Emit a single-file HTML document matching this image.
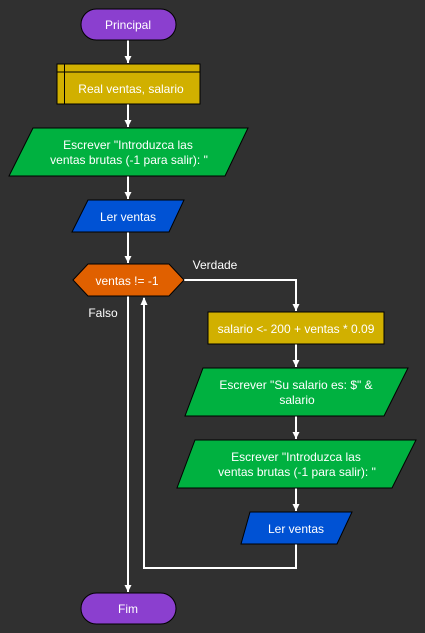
<!DOCTYPE html>
<html><head><meta charset="utf-8"><style>
html,body{margin:0;padding:0;background:#303030;}
svg{display:block;}
text{font-family:"Liberation Sans",sans-serif;font-size:12px;fill:#fff;text-anchor:middle;}
</style></head><body>
<svg width="425" height="633" viewBox="0 0 425 633" xmlns="http://www.w3.org/2000/svg">
<rect width="425" height="633" fill="#303030"/>
<defs>
<marker id="a" markerWidth="8" markerHeight="8" refX="4" refY="7" orient="auto-start-reverse" markerUnits="userSpaceOnUse">
<path d="M0.5,0 L4,7 L7.5,0 L4,2 Z" fill="#fff"/>
</marker>
</defs>
<g stroke="#fff" stroke-width="2" fill="none">
<line x1="128" y1="40" x2="128" y2="63"/>
<path d="M124.5,56 L128,63 L131.5,56 Z" fill="#fff" stroke="none"/>
<line x1="128" y1="104" x2="128" y2="127"/>
<path d="M124.5,120 L128,127 L131.5,120 Z" fill="#fff" stroke="none"/>
<line x1="128" y1="176" x2="128" y2="199"/>
<path d="M124.5,192 L128,199 L131.5,192 Z" fill="#fff" stroke="none"/>
<line x1="128" y1="232" x2="128" y2="263"/>
<path d="M124.5,256 L128,263 L131.5,256 Z" fill="#fff" stroke="none"/>
<polyline points="184,280 296,280 296,311"/>
<path d="M292.5,304 L296,311 L299.5,304 Z" fill="#fff" stroke="none"/>
<line x1="296" y1="344" x2="296" y2="367"/>
<path d="M292.5,360 L296,367 L299.5,360 Z" fill="#fff" stroke="none"/>
<line x1="296" y1="416" x2="296" y2="439"/>
<path d="M292.5,432 L296,439 L299.5,432 Z" fill="#fff" stroke="none"/>
<line x1="296" y1="488" x2="296" y2="511"/>
<path d="M292.5,504 L296,511 L299.5,504 Z" fill="#fff" stroke="none"/>
<polyline points="296,544 296,568 144,568 144,298"/>
<path d="M140.5,305 L144,297 L147.5,305 Z" fill="#fff" stroke="none"/>
<line x1="128" y1="296" x2="128" y2="592"/>
<path d="M124.5,585 L128,592 L131.5,585 Z" fill="#fff" stroke="none"/>
</g>
<g stroke="#000" stroke-width="1">
<rect x="81" y="9" width="95" height="31" rx="15.5" fill="#8b3fcf"/>
<rect x="57" y="64" width="143" height="40" fill="#d1b000"/>
<line x1="57" y1="72" x2="200" y2="72"/><line x1="64.5" y1="64" x2="64.5" y2="104"/>
<polygon points="33,128 248,128 225,176 9,176" fill="#00b140"/>
<polygon points="88,200 184,200 169,232 72,232" fill="#0052d4"/>
<polygon points="73,280 88,264 169,264 184,280 169,296 88,296" fill="#e06000"/>
<rect x="208" y="312" width="176" height="32" fill="#d1b000"/>
<polygon points="203,368 408,368 384,416 185,416" fill="#00b140"/>
<polygon points="195,440 416,440 392,488 177,488" fill="#00b140"/>
<polygon points="250,512 352,512 337,544 241,544" fill="#0052d4"/>
<rect x="81" y="593" width="95" height="31" rx="15.5" fill="#8b3fcf"/>
</g>
<text x="128" y="29">Principal</text>
<text x="131" y="93">Real ventas, salario</text>
<text x="128" y="149">Escrever "Introduzca las</text>
<text x="129" y="164">ventas brutas (-1 para salir): "</text>
<text x="128" y="221">Ler ventas</text>
<text x="127" y="285">ventas != -1</text>
<text x="215" y="269">Verdade</text>
<text x="103" y="317">Falso</text>
<text x="296" y="333">salario &lt;- 200 + ventas * 0.09</text>
<text x="296" y="389">Escrever "Su salario es: $" &amp;</text>
<text x="297" y="404">salario</text>
<text x="296" y="461">Escrever "Introduzca las</text>
<text x="297" y="476">ventas brutas (-1 para salir): "</text>
<text x="296" y="533">Ler ventas</text>
<text x="128" y="613">Fim</text>
</svg>
</body></html>
